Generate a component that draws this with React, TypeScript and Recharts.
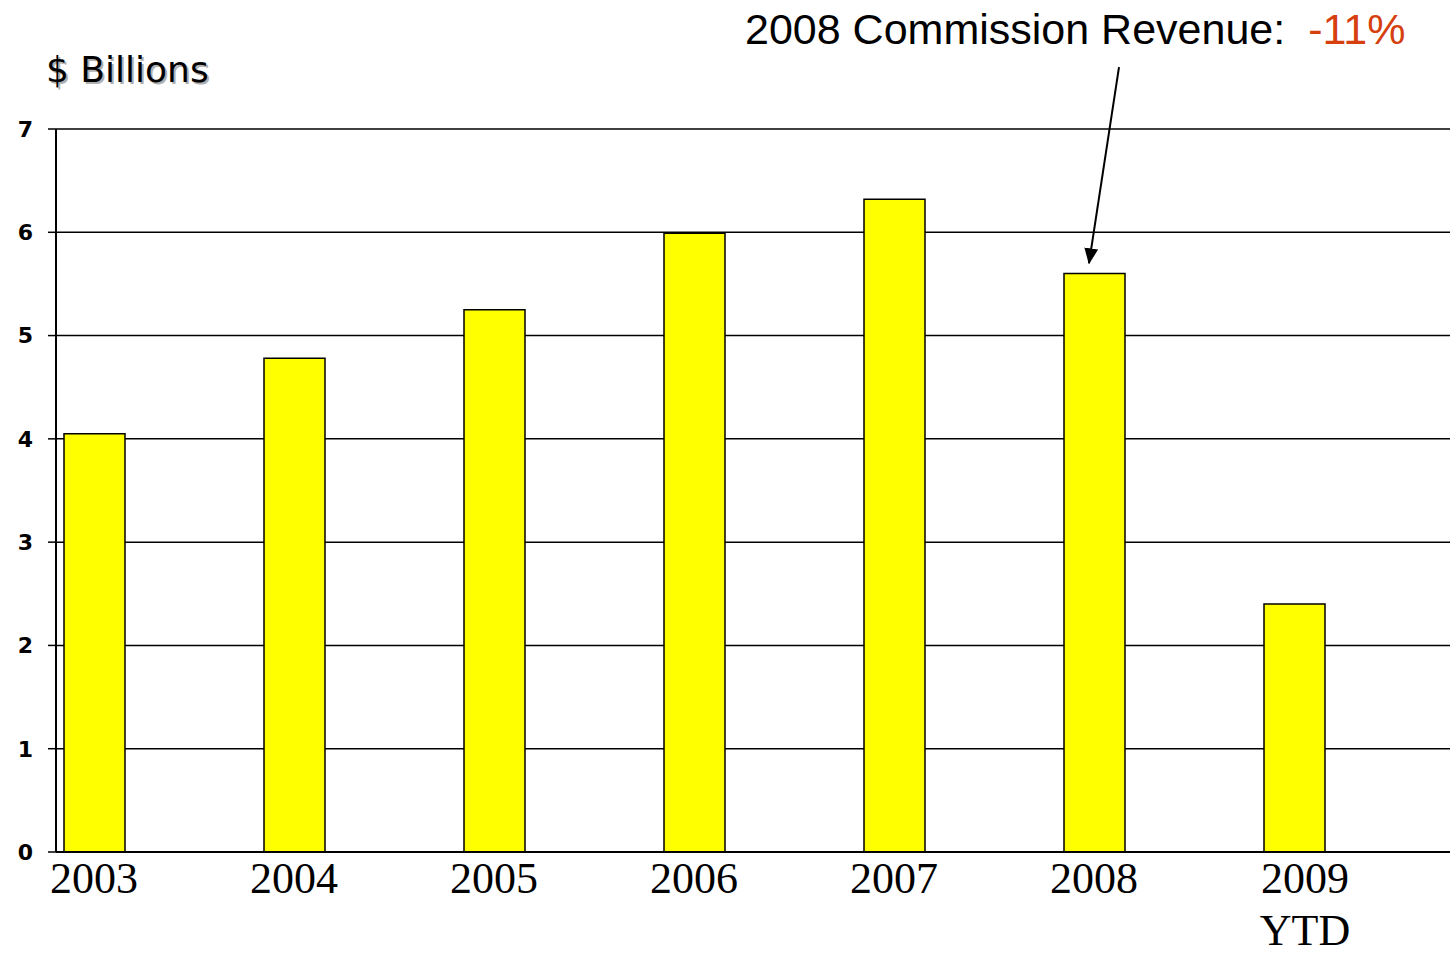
import React from "react";
import { BarChart, Bar, XAxis, YAxis, CartesianGrid, ReferenceLine } from "recharts";

const years = [2003, 2004, 2005, 2006, 2007, 2008, 2009];
const yearLabels = ["2003", "2004", "2005", "2006", "2007", "2008", "2009\nYTD"];
const revenue = [4.05, 4.78, 5.25, 5.99, 6.32, 5.6, 2.4];
const yTicks = [0, 1, 2, 3, 4, 5, 6, 7];

const data = years.map((y, i) => ({ year: y, value: revenue[i] }));

const XTick = (props: any) => {
  const { x, y, payload } = props;
  const idx = years.indexOf(payload.value);
  const lines = (idx >= 0 ? yearLabels[idx] : String(payload.value)).split("\n");
  const cx = lines.length > 1 ? x + 10 : x - 1;
  return (
    <text x={cx} y={y} textAnchor="middle" fontFamily="'Liberation Serif', 'Times New Roman', serif" fontSize={44} fill="#000">
      {lines.map((l, i) => (
        <tspan key={i} x={cx} dy={i === 0 ? 41 : 52}>
          {l}
        </tspan>
      ))}
    </text>
  );
};

export default function App() {
  return (
    <div style={{ position: "absolute", left: 0, top: 0, width: 1450, height: 954, background: "#fff" }}>
      <svg width={0} height={0} style={{ position: "absolute" }}>
        <defs>
          <marker id="arrowHead" viewBox="0 0 16 14" refX={15} refY={7} markerWidth={16} markerHeight={14} markerUnits="userSpaceOnUse" orient="auto">
            <path d="M0,0 L16,7 L0,14 z" fill="#000" />
          </marker>
        </defs>
      </svg>
      <BarChart width={1450} height={954} data={data} margin={{ top: 129, right: 0, left: 0, bottom: 0 }}>
        <CartesianGrid vertical={false} stroke="#000" strokeWidth={1.5} />
        <XAxis
          dataKey="year"
          type="number"
          domain={[2002.805, 2009.775]}
          allowDataOverflow
          ticks={years}
          interval={0}
          tickLine={false}
          tickSize={0}
          tickMargin={0}
          axisLine={{ stroke: "#000", strokeWidth: 2 }}
          tick={<XTick />}
          height={102}
        />
        <YAxis
          type="number"
          domain={[0, 7]}
          ticks={yTicks}
          interval={0}
          width={56}
          tickSize={8}
          tickMargin={15}
          tickLine={{ stroke: "#000", strokeWidth: 1.5 }}
          axisLine={{ stroke: "#000", strokeWidth: 2 }}
          tick={{ fill: "#000", fontFamily: "'DejaVu Sans', Verdana, sans-serif", fontWeight: "bold", fontSize: 22 }}
        />
        <Bar dataKey="value" fill="#FFFF00" stroke="#000" strokeWidth={1.5} barSize={61} isAnimationActive={false} />
        <ReferenceLine
          segment={[
            { x: 2008.12, y: 7.6 },
            { x: 2007.97, y: 5.7 },
          ]}
          ifOverflow="visible"
          stroke="#000"
          strokeWidth={2}
          markerEnd="url(#arrowHead)"
        />
      </BarChart>
      <svg width={1450} height={954} style={{ position: "absolute", left: 0, top: 0, pointerEvents: "none" }}>
        <text x={48} y={84} fontFamily="'DejaVu Sans', Verdana, sans-serif" fontSize={36} fill="#b0b0b0">
          $ Billions
        </text>
        <text x={46} y={82} fontFamily="'DejaVu Sans', Verdana, sans-serif" fontSize={36} fill="#000">
          $ Billions
        </text>
        <text x={745} y={44} fontFamily="'Liberation Sans', Arial, sans-serif" fontSize={43} fill="#000">
          2008 Commission Revenue:
          <tspan dx={23} fill="#D6400F">-11%</tspan>
        </text>
      </svg>
    </div>
  );
}
